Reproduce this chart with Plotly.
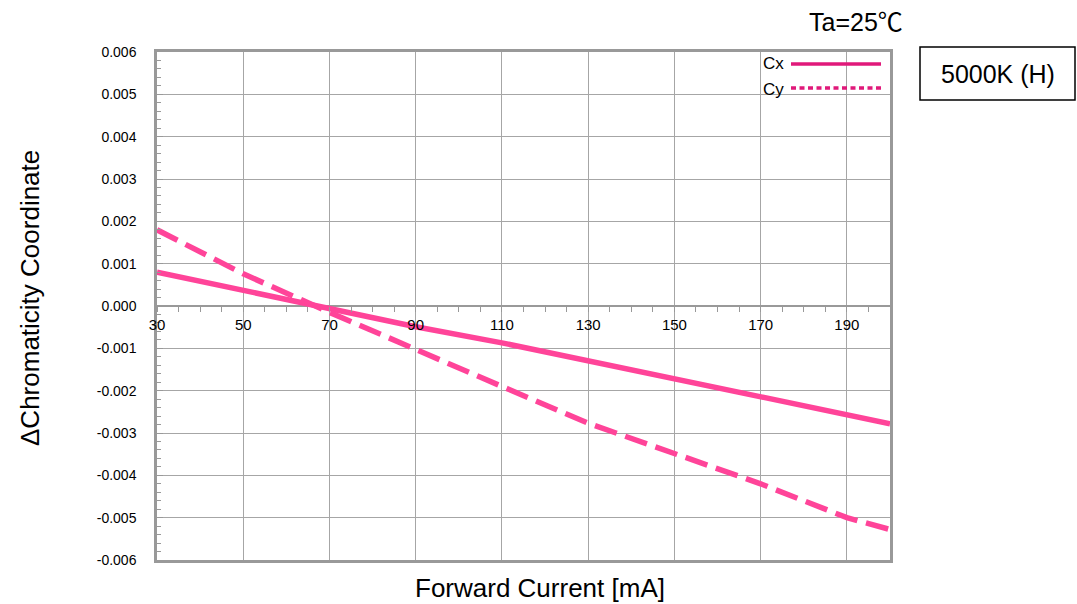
import plotly.graph_objects as go

current = [30, 50, 70, 90, 110, 130, 150, 170, 190, 200]
cx = [0.00080, 0.00037, -0.00006, -0.00049, -0.00087, -0.00129, -0.00172, -0.00214, -0.00257, -0.00278]
cy = [0.00180, 0.00076, -0.00015, -0.00104, -0.00190, -0.00277, -0.00350, -0.00420, -0.00500, -0.00528]

xticks = [30, 50, 70, 90, 110, 130, 150, 170, 190]
yticks = [0.006, 0.005, 0.004, 0.003, 0.002, 0.001, 0.0, -0.001, -0.002, -0.003, -0.004, -0.005, -0.006]
yticklabels = ["0.006", "0.005", "0.004", "0.003", "0.002", "0.001", "0.000",
               "-0.001", "-0.002", "-0.003", "-0.004", "-0.005", "-0.006"]

line_col = "#FF4499"
legend_col = "#E0197A"
grid_col = "#A6A6A6"
font = "Liberation Sans"

L, R, T, B = 157, 890, 52, 560
W, H = R - L, B - T


def px(x):
    return (x - L) / W


def py(y):
    return 1 - (y - T) / H


fig = go.Figure()
fig.add_trace(go.Scatter(x=current, y=cx, mode="lines", name="Cx",
                         line=dict(color=line_col, width=5.5), xaxis="x", yaxis="y"))
fig.add_trace(go.Scatter(x=current, y=cy, mode="lines", name="Cy",
                         line=dict(color=line_col, width=5.5, dash="23px,9px"), xaxis="x", yaxis="y"))
fig.add_trace(go.Scatter(x=[None], y=[None], xaxis="x2", yaxis="y", showlegend=False))

fig.update_layout(
    width=1077, height=604,
    margin=dict(l=L, r=1077 - R, t=T, b=604 - B, autoexpand=False),
    paper_bgcolor="white", plot_bgcolor="white",
    showlegend=False,
    font=dict(family=font, color="black"),
    xaxis=dict(range=[30, 200], tickmode="linear", tick0=30, dtick=20,
               showticklabels=False, ticks="", showgrid=True, gridcolor=grid_col,
               gridwidth=1, showline=True, linecolor="#999999", linewidth=2.5,
               mirror=True, zeroline=False, domain=[0, 1]),
    xaxis2=dict(range=[30, 200], overlaying="x", anchor="free", position=0.5,
                side="bottom", tickmode="array", tickvals=xticks,
                ticktext=[str(v) for v in xticks], ticks="outside", ticklen=5,
                tickcolor="#999999", showgrid=False, showline=False, zeroline=False,
                tickfont=dict(size=15, family=font, color="black"),
                minor=dict(tickmode="linear", tick0=30, dtick=5, ticks="outside",
                           ticklen=5, tickcolor="#999999")),
    yaxis=dict(range=[-0.006, 0.006], tickmode="array", tickvals=yticks,
               ticktext=yticklabels, ticks="inside", ticklen=6, tickcolor="#999999",
               tickfont=dict(size=14, family=font, color="black"),
               ticklabelstandoff=15,
               showgrid=True, gridcolor=grid_col, gridwidth=1,
               zeroline=True, zerolinecolor="#999999", zerolinewidth=1.5,
               showline=True, linecolor="#999999", linewidth=2.5, mirror=True,
               minor=dict(tickmode="linear", tick0=0, dtick=0.0002, ticks="inside",
                          ticklen=4, tickcolor="#999999", showgrid=False),
               domain=[0, 1]),
)

# Legend drawn manually
fig.add_annotation(xref="paper", yref="paper", x=px(786), y=py(64),
                   text="Cx", showarrow=False, xanchor="right", yanchor="middle",
                   font=dict(size=17, family=font, color="black"))
fig.add_annotation(xref="paper", yref="paper", x=px(786), y=py(89),
                   text="Cy", showarrow=False, xanchor="right", yanchor="middle",
                   font=dict(size=17, family=font, color="black"))
fig.add_shape(type="line", xref="paper", yref="paper",
              x0=px(791), x1=px(881), y0=py(64), y1=py(64),
              line=dict(color=legend_col, width=3.5))
fig.add_shape(type="line", xref="paper", yref="paper",
              x0=px(791), x1=px(881), y0=py(88), y1=py(88),
              line=dict(color=legend_col, width=3.5, dash="5px,3.5px"))

# Titles
fig.add_annotation(xref="paper", yref="paper", x=px(540), y=py(588),
                   text="Forward Current [mA]", showarrow=False, xanchor="center",
                   yanchor="middle", font=dict(size=26, family=font, color="black"))
fig.add_annotation(xref="paper", yref="paper", x=px(30), y=py(298),
                   text="ΔChromaticity Coordinate", showarrow=False, textangle=-90,
                   xanchor="center", yanchor="middle",
                   font=dict(size=26, family=font, color="black"))
fig.add_annotation(xref="paper", yref="paper", x=px(807), y=py(20),
                   text="Ta=25<span style=\"font-family:'Noto Sans CJK JP'\">℃</span>",
                   showarrow=False, xanchor="left", yanchor="middle",
                   font=dict(size=25, family=font, color="black"))
fig.add_annotation(xref="paper", yref="paper", x=px(997.5), y=py(74),
                   text="5000K (H)", showarrow=False, xanchor="center", yanchor="middle",
                   font=dict(size=25, family=font, color="black"))
fig.add_shape(type="rect", xref="paper", yref="paper",
              x0=px(920), x1=px(1075), y0=py(100), y1=py(47),
              line=dict(color="black", width=1.5))

fig.write_html("out.html", config={"displayModeBar": False},
               post_script="document.body.style.margin='0';document.body.style.padding='0';")
